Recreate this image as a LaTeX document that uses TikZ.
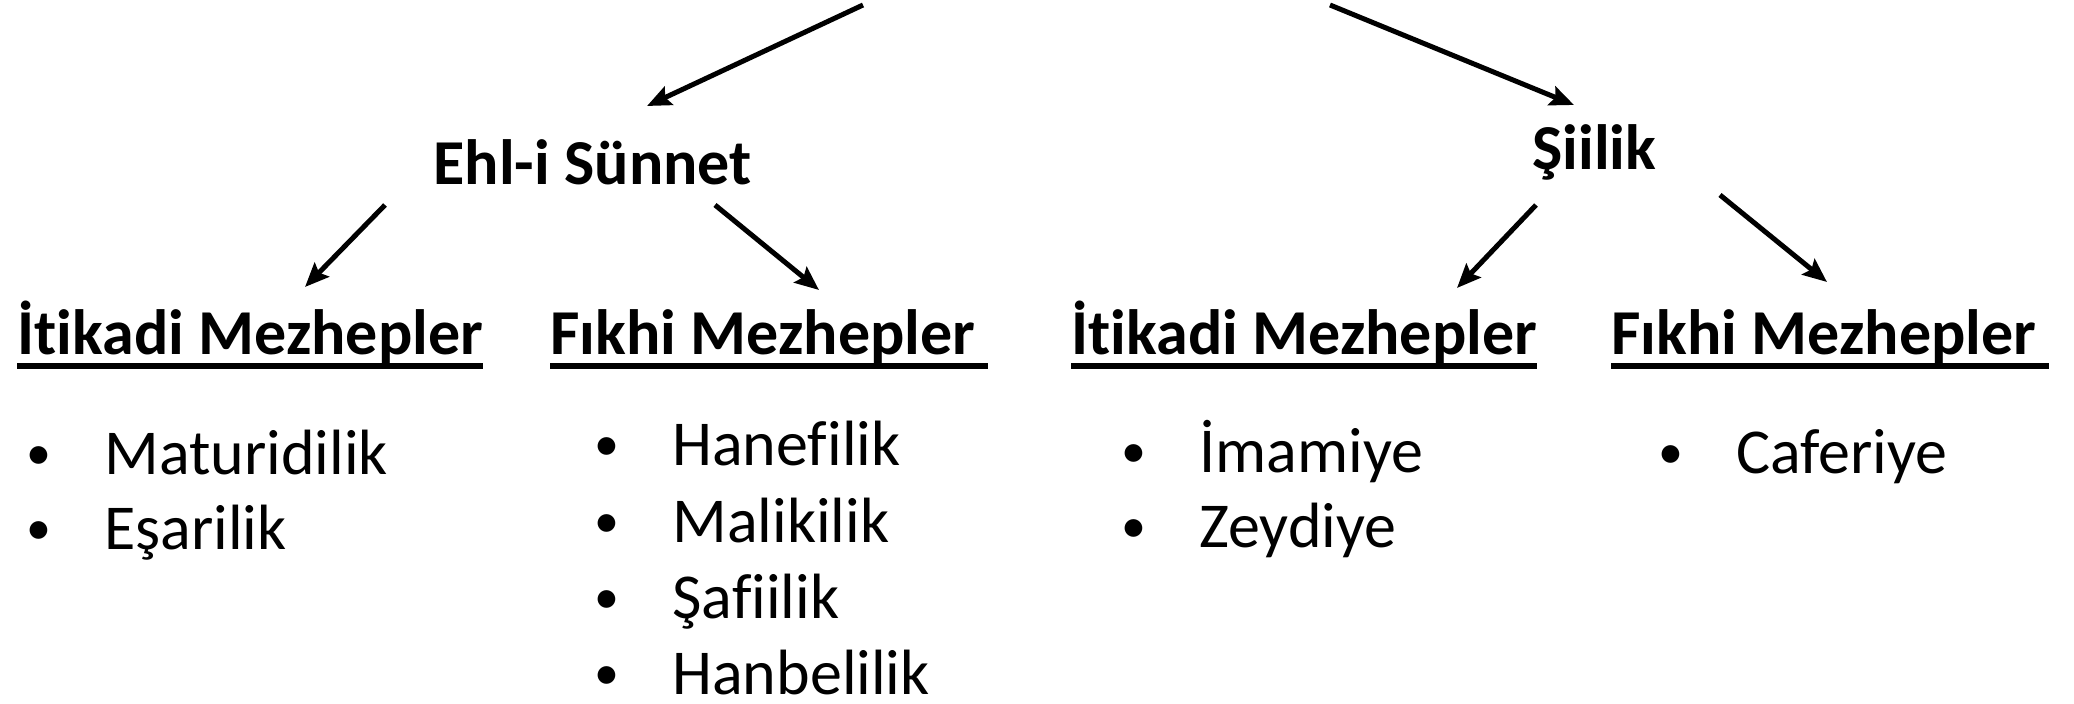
\documentclass[tikz,border=0pt]{standalone}
\usepackage{fontspec}
\setmainfont{Carlito}[Ligatures=NoCommon]
\usetikzlibrary{arrows.meta}

\tikzset{
    heading/.style={anchor=base west, inner sep=0pt, font=\fontsize{32}{38}\selectfont\bfseries},
    item/.style={anchor=base west, inner sep=0pt, font=\fontsize{32}{38}\selectfont},
    conn/.style={line width=2.5pt, -{Stealth[length=12pt,width=10pt,inset=2pt]}},
    uline/.style={line width=2.6pt}
}
\newcommand{\madde}[1]{\makebox[39pt][l]{\raisebox{2.6pt}{\fontsize{25}{25}\selectfont\textbullet}}#1}

\begin{document}
\begin{tikzpicture}[x=0.5pt,y=-0.5pt]

\useasboundingbox (0,0) rectangle (2074,704);

% top level
    \node[heading] (ehl) at (433,185) {Ehl-i Sünnet};
    \node[heading] (siilik) at (1532,170) {Şiilik};
    \coordinate (topL) at (863,5);
    \coordinate (topR) at (1330,5);

% second level
    \node[heading] (itkL) at (17,355) {İtikadi Mezhepler};
    \node[heading] (fikL) at (550,355) {Fıkhi Mezhepler};
    \node[heading] (itkR) at (1071,355) {İtikadi Mezhepler};
    \node[heading] (fikR) at (1611,355) {Fıkhi Mezhepler};

% underlines
    \draw[uline] ([yshift=-5.5pt]itkL.base west) -- ([yshift=-5.5pt]itkL.base east);
    \draw[uline] ([yshift=-5.5pt]fikL.base west) -- ([xshift=6pt,yshift=-5.5pt]fikL.base east);
    \draw[uline] ([yshift=-5.5pt]itkR.base west) -- ([yshift=-5.5pt]itkR.base east);
    \draw[uline] ([yshift=-5.5pt]fikR.base west) -- ([xshift=6pt,yshift=-5.5pt]fikR.base east);

% arrows
    \draw[conn] (topL) -- ([shift={(214,-79)}]ehl.base west);
    \draw[conn] (topR) -- ([shift={(42,-65)}]siilik.base west);
    \draw[conn] ([shift={(-48,20)}]ehl.base west) -- ([shift={(288,-68)}]itkL.base west);
    \draw[conn] ([shift={(282,20)}]ehl.base west) -- ([shift={(269,-65)}]fikL.base west);
    \draw[conn] ([shift={(4,35)}]siilik.base west) -- ([shift={(386,-67)}]itkR.base west);
    \draw[conn] ([shift={(188,25)}]siilik.base west) -- ([shift={(216,-73)}]fikR.base west);

% items
    \node[item] (mat) at (26,475) {\madde{Maturidilik}};
    \node[item] (esa) at (26,550) {\madde{Eşarilik}};
    \node[item] (han) at (594,466) {\madde{Hanefilik}};
    \node[item] (mal) at (594,543) {\madde{Malikilik}};
    \node[item] (saf) at (594,619) {\madde{Şafiilik}};
    \node[item] (hnb) at (594,695) {\madde{Hanbelilik}};
    \node[item] (ima) at (1121,473) {\madde{İmamiye}};
    \node[item] (zey) at (1121,548) {\madde{Zeydiye}};
    \node[item] (caf) at (1658,474) {\madde{Caferiye}};

\end{tikzpicture}
\end{document}
